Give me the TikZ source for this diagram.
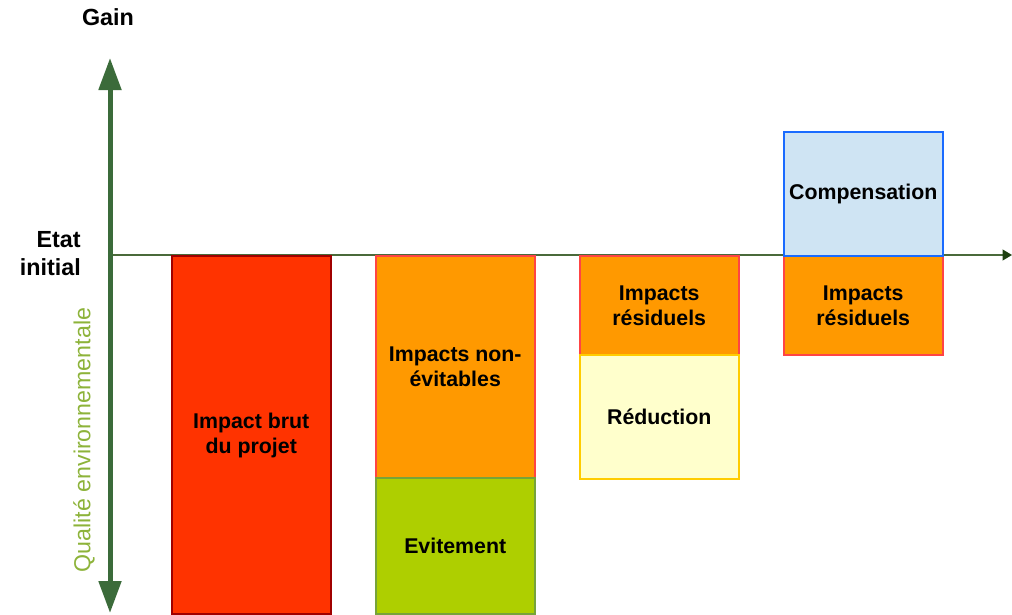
\documentclass[tikz,border=0pt]{standalone}
\usepackage{fontspec}
\setmainfont{Liberation Sans}
\usetikzlibrary{arrows.meta}
\definecolor{axisgreen}{HTML}{3B6B3A}
\definecolor{hgreen}{HTML}{4A6A3A}
\definecolor{tipgreen}{HTML}{1E4010}
\definecolor{qgreen}{HTML}{8DB33A}
\definecolor{brutfill}{HTML}{FF3300}
\definecolor{brutdraw}{HTML}{A00000}
\definecolor{orangefill}{HTML}{FF9900}
\definecolor{reddraw}{HTML}{FF4444}
\definecolor{evitfill}{HTML}{AECF00}
\definecolor{evitdraw}{HTML}{77A33A}
\definecolor{reducfill}{HTML}{FFFFCC}
\definecolor{reducdraw}{HTML}{FFCC00}
\definecolor{compfill}{HTML}{CFE4F3}
\definecolor{compdraw}{HTML}{1A6BFF}
\begin{document}
\begin{tikzpicture}[x=0.75pt,y=-0.75pt,
  box/.style={draw, line width=1.6pt, anchor=north west, minimum width=119.5pt,
    inner sep=0pt, align=center, text=black,
    font=\fontsize{16}{18.75}\selectfont\bfseries},
  lbl/.style={text=black, inner sep=0pt, font=\fontsize{17.5}{21}\selectfont\bfseries}]
\useasboundingbox (0,0) rectangle (1012,614);
% axes
\coordinate (origin) at (110,255);
\coordinate (xend) at (1012,255);
\coordinate (vtop) at (110,58);
\coordinate (vbot) at (110,613);
\draw[hgreen, line width=1.2pt, -{Triangle[length=7pt,width=8pt,color=tipgreen]}] (origin) -- (xend);
\draw[axisgreen, line width=3.75pt,
  {Triangle[length=24pt,width=16.5pt]}-{Triangle[length=24pt,width=16.5pt]}] (vbot) -- (vtop);
% labels
\node[lbl] (gain) at (108,17) {Gain};
\node[lbl, anchor=east, align=right] (etat) at (81,254) {Etat\\initial};
\node[rotate=90, text=qgreen, inner sep=0pt, font=\fontsize{17.4}{20}\selectfont] (qual) at (84,440) {Qualité environnementale};
% boxes
\node[box, fill=brutfill, draw=brutdraw, minimum height=268.5pt] (brut) at (170.5,255) {Impact brut\\du projet};
\node[box, fill=orangefill, draw=reddraw, minimum height=166.5pt] (nonevit) at (374.5,255) {Impacts non-\\évitables};
\node[box, fill=evitfill, draw=evitdraw, minimum height=102pt] (evit) at (374.5,477) {Evitement};
\node[box, fill=orangefill, draw=reddraw, minimum height=74.25pt] (resid1) at (578.5,255) {Impacts\\résiduels};
\node[box, fill=reducfill, draw=reducdraw, minimum height=93pt] (reduc) at (578.5,354) {Réduction};
\node[box, fill=orangefill, draw=reddraw, minimum height=74.25pt] (resid2) at (782.5,255) {Impacts\\résiduels};
\node[box, fill=compfill, draw=compdraw, minimum height=93pt] (comp) at (782.5,131) {Compensation};
\end{tikzpicture}
\end{document}
